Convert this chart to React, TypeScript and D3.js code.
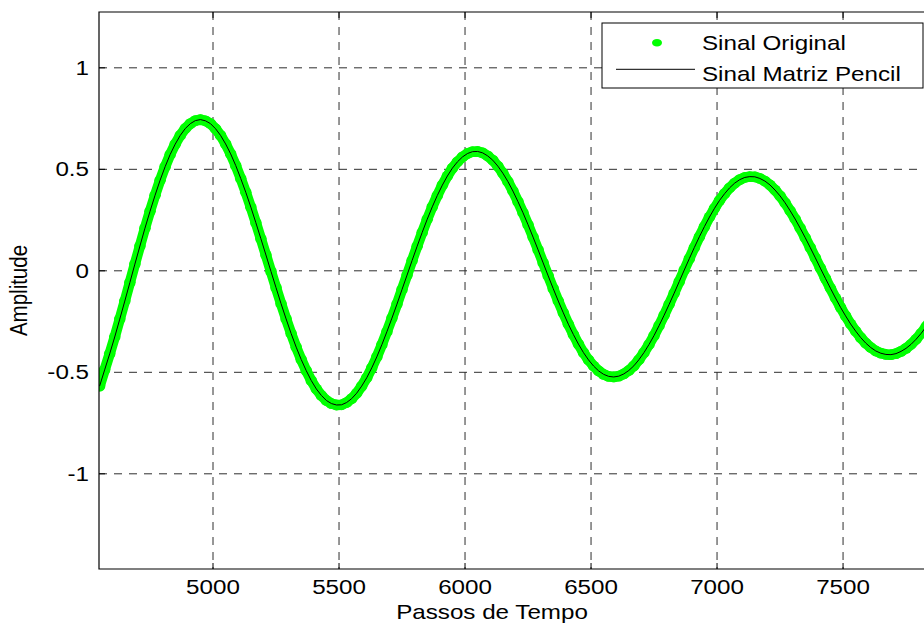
import React from 'react';
import * as d3 from 'd3';

// Time steps: first sample and spacing of samples
const stepStart = 4550;
const stepSize = 20;

// Amplitude, one value per sample
const amplitude = [
  -0.568, -0.488, -0.409, -0.326, -0.238, -0.149, -0.058, 0.033, 0.122, 0.210,
  0.293, 0.372, 0.446, 0.513, 0.573, 0.624, 0.667, 0.701, 0.725, 0.740,
  0.745, 0.739, 0.725, 0.700, 0.667, 0.625, 0.576, 0.519, 0.455, 0.387,
  0.314, 0.237, 0.158, 0.078, -0.003, -0.083, -0.162, -0.237, -0.309, -0.376,
  -0.437, -0.492, -0.541, -0.582, -0.614, -0.639, -0.654, -0.661, -0.660, -0.649,
  -0.630, -0.603, -0.568, -0.527, -0.478, -0.424, -0.364, -0.300, -0.233, -0.164,
  -0.092, -0.021, 0.051, 0.121, 0.189, 0.254, 0.315, 0.371, 0.422, 0.467,
  0.506, 0.537, 0.561, 0.578, 0.587, 0.588, 0.581, 0.566, 0.545, 0.516,
  0.481, 0.440, 0.393, 0.341, 0.286, 0.227, 0.166, 0.103, 0.039, -0.025,
  -0.088, -0.149, -0.207, -0.263, -0.314, -0.361, -0.403, -0.439, -0.469, -0.493,
  -0.510, -0.520, -0.523, -0.519, -0.508, -0.491, -0.468, -0.438, -0.403, -0.363,
  -0.319, -0.270, -0.219, -0.165, -0.110, -0.053, 0.004, 0.060, 0.115, 0.168,
  0.218, 0.265, 0.308, 0.347, 0.380, 0.409, 0.432, 0.449, 0.460, 0.464,
  0.463, 0.455, 0.442, 0.423, 0.398, 0.369, 0.335, 0.296, 0.255, 0.210,
  0.163, 0.114, 0.064, 0.013, -0.037, -0.086, -0.134, -0.180, -0.222, -0.262,
  -0.297, -0.329, -0.356, -0.378, -0.395, -0.406, -0.412, -0.413, -0.408, -0.397,
  -0.382, -0.362, -0.337, -0.308, -0.275, -0.239,
];

const xTicks = [5000, 5500, 6000, 6500, 7000, 7500];
const yTicks = [-1, -0.5, 0, 0.5, 1];
const yTickLabels = ['-1', '-0.5', '0', '0.5', '1'];
const seriesNames = ['Sinal Original', 'Sinal Matriz Pencil'];
const xTitle = 'Passos de Tempo';
const yTitle = 'Amplitude';

const FONT = '"Liberation Sans", Arial, Helvetica, sans-serif';
const SX = 1.18; // horizontal stretch of the reference text

export default function App() {
  const W = 924;
  const H = 625;
  const left = 99;
  const right = 930;
  const top = 12;
  const bottom = 569;

  const x = d3.scaleLinear().domain([4547.6, 7845]).range([left, right]);
  const y = d3.scaleLinear().domain([-1.469, 1.275]).range([bottom, top]);

  const pts = amplitude.map((v, i) => [stepStart + i * stepSize, v] as [number, number]);
  const line = d3.line<[number, number]>().x((d) => x(d[0])).y((d) => y(d[1]));

  const gridColor = '#2e2e2e';
  const dash = '8,7';
  const fs = 20.5;

  const txt = (
    s: string,
    tx: number,
    ty: number,
    anchor: 'start' | 'middle' | 'end',
    key?: string
  ) => (
    <text
      key={key}
      transform={`translate(${tx},${ty}) scale(${SX},1)`}
      textAnchor={anchor}
      fontFamily={FONT}
      fontSize={fs}
      fill="#000"
    >
      {s}
    </text>
  );

  const legX = 602;
  const legY = 23;
  const legW = 321;
  const legH = 65;

  return (
    <svg
      width={W}
      height={H}
      style={{ position: 'fixed', left: 0, top: 0, background: '#fff' }}
    >
      <defs>
        <clipPath id="plotclip">
          <rect x={left} y={top} width={right - left} height={bottom - top} />
        </clipPath>
      </defs>
      <rect x={0} y={0} width={W} height={H} fill="#fff" />

      {/* grid */}
      {xTicks.map((t) => (
        <line
          key={'gx' + t}
          x1={x(t)}
          x2={x(t)}
          y1={top}
          y2={bottom}
          stroke={gridColor}
          strokeWidth={1}
          strokeDasharray={dash}
        />
      ))}
      {yTicks.map((t) => (
        <line
          key={'gy' + t}
          x1={left}
          x2={right}
          y1={y(t)}
          y2={y(t)}
          stroke={gridColor}
          strokeWidth={1}
          strokeDasharray={dash}
        />
      ))}

      {/* ticks */}
      {xTicks.map((t) => (
        <g key={'tx' + t}>
          <line x1={x(t)} x2={x(t)} y1={bottom} y2={bottom - 6} stroke="#000" />
          <line x1={x(t)} x2={x(t)} y1={top} y2={top + 6} stroke="#000" />
        </g>
      ))}
      {yTicks.map((t) => (
        <line key={'ty' + t} x1={left} x2={left + 6} y1={y(t)} y2={y(t)} stroke="#000" />
      ))}

      {/* data */}
      <g clipPath="url(#plotclip)">
        <path
          d={line(pts) || ''}
          fill="none"
          stroke="#00ff00"
          strokeWidth={10.5}
          strokeLinejoin="round"
          strokeLinecap="round"
        />
        {pts.map((d, i) => (
          <ellipse key={'p' + i} cx={x(d[0])} cy={y(d[1])} rx={5.8} ry={5.4} fill="#00ff00" />
        ))}
        <path d={line(pts) || ''} fill="none" stroke="#000" strokeWidth={1} />
      </g>

      {/* axes box */}
      <path
        d={`M${right},${top}H${left}V${bottom}H${right}`}
        fill="none"
        stroke="#000"
        strokeWidth={1.2}
      />

      {/* tick labels */}
      {xTicks.map((t) => txt(String(t), x(t), 594, 'middle', 'lx' + t))}
      {yTicks.map((t, i) => txt(yTickLabels[i], 89, y(t) + 7, 'end', 'ly' + t))}

      {/* axis titles */}
      {txt(xTitle, 492, 619, 'middle', 'xt')}
      <text
        transform={`translate(27,${(top + bottom) / 2}) scale(${SX},1) rotate(-90)`}
        textAnchor="middle"
        fontFamily={FONT}
        fontSize={fs}
        fill="#000"
      >
        {yTitle}
      </text>

      {/* legend */}
      <rect x={legX} y={legY} width={legW} height={legH} fill="#fff" stroke="#000" strokeWidth={1} />
      <ellipse cx={657} cy={42.7} rx={5} ry={3.8} fill="#00ff00" />
      {txt(seriesNames[0], 702, 49.5, 'start', 'l0')}
      <line x1={616} x2={695} y1={69.3} y2={69.3} stroke="#000" strokeWidth={1} />
      {txt(seriesNames[1], 702, 81, 'start', 'l1')}
    </svg>
  );
}
